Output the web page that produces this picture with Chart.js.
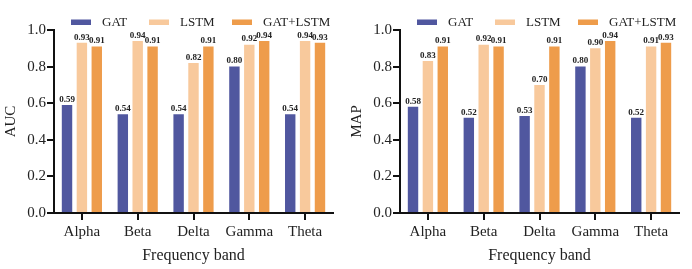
<!DOCTYPE html>
<html>
<head>
<meta charset="utf-8">
<script src="https://cdn.jsdelivr.net/npm/chart.js@4.4.1/dist/chart.umd.min.js"></script>
<style>
  html, body { margin: 0; padding: 0; background: #fff; }
  #wrap { width: 692px; height: 269px; display: flex; }
  #wrap canvas { display: block; }
</style>
</head>
<body>
<div id="wrap">
  <canvas id="aucChart" width="346" height="269"></canvas>
  <canvas id="mapChart" width="346" height="269"></canvas>
</div>
<script>
const bands = ['Alpha', 'Beta', 'Delta', 'Gamma', 'Theta'];
const seriesNames = ['GAT', 'LSTM', 'GAT+LSTM'];
const yTicks = [0.0, 0.2, 0.4, 0.6, 0.8, 1.0];

const aucGat = [0.59, 0.54, 0.54, 0.80, 0.54];
const aucLstm = [0.93, 0.94, 0.82, 0.92, 0.94];
const aucBoth = [0.91, 0.91, 0.91, 0.94, 0.93];

const mapGat = [0.58, 0.52, 0.53, 0.80, 0.52];
const mapLstm = [0.83, 0.92, 0.70, 0.90, 0.91];
const mapBoth = [0.91, 0.91, 0.91, 0.94, 0.93];

const colors = ['#50579f', '#f8c99c', '#ee9c4b'];
const serif = "'Liberation Serif', 'Times New Roman', serif";

// 柱頂數值
const valueLabels = {
  id: 'valueLabels',
  afterDatasetsDraw(chart) {
    const ctx = chart.ctx;
    ctx.save();
    ctx.font = 'bold 9px ' + serif;
    ctx.fillStyle = '#222';
    ctx.textAlign = 'center';
    ctx.textBaseline = 'bottom';
    chart.data.datasets.forEach((ds, i) => {
      chart.getDatasetMeta(i).data.forEach((bar, j) => {
        ctx.fillText(ds.data[j].toFixed(2), bar.x, bar.y - 1);
      });
    });
    ctx.restore();
  }
};

// 上方圖例
const topLegend = {
  id: 'topLegend',
  afterDraw(chart) {
    const ctx = chart.ctx;
    const left = chart.chartArea.left;
    const offsets = [17, 95, 178];
    ctx.save();
    ctx.font = '13px ' + serif;
    ctx.textBaseline = 'middle';
    ctx.textAlign = 'left';
    chart.data.datasets.forEach((ds, i) => {
      const x = left + offsets[i];
      ctx.fillStyle = ds.backgroundColor;
      ctx.fillRect(x, 19.5, 20, 5.5);
      ctx.fillStyle = '#222';
      ctx.fillText(ds.label, x + 31, 22.5);
    });
    ctx.restore();
  }
};

function makeChart(id, yTitle, gat, lstm, both) {
  const values = [gat, lstm, both];
  return new Chart(document.getElementById(id), {
    type: 'bar',
    data: {
      labels: bands,
      datasets: seriesNames.map((name, i) => ({
        label: name,
        data: values[i],
        backgroundColor: colors[i],
        borderWidth: 0,
        barPercentage: 0.7,
        categoryPercentage: 0.8
      }))
    },
    options: {
      responsive: false,
      animation: false,
      layout: { padding: { top: 30, right: 13, left: 0, bottom: 0 } },
      plugins: { legend: { display: false }, tooltip: { enabled: false } },
      scales: {
        x: {
          grid: { drawOnChartArea: false, drawTicks: true, tickLength: 7, offset: false, color: '#111', lineWidth: 2 },
          border: { color: '#111', width: 2 },
          ticks: { color: '#222', font: { family: serif, size: 15 }, padding: 3 },
          title: { display: true, text: 'Frequency band', color: '#222', font: { family: serif, size: 16 }, padding: { top: 2, bottom: 4 } },
          afterFit: s => { s.height = 56; }
        },
        y: {
          min: 0, max: 1,
          afterBuildTicks: s => { s.ticks = yTicks.map(v => ({ value: v })); },
          grid: { drawOnChartArea: false, drawTicks: true, tickLength: 7, color: '#111', lineWidth: 2 },
          border: { color: '#111', width: 2 },
          ticks: { color: '#222', font: { family: serif, size: 15 }, padding: 1, callback: v => v.toFixed(1) },
          title: { display: true, text: yTitle, color: '#222', font: { family: serif, size: 15 }, padding: { top: 2, bottom: 0 } },
          afterFit: s => { s.width = 54; }
        }
      }
    },
    plugins: [valueLabels, topLegend]
  });
}

makeChart('aucChart', 'AUC', aucGat, aucLstm, aucBoth);
makeChart('mapChart', 'MAP', mapGat, mapLstm, mapBoth);
</script>
</body>
</html>
